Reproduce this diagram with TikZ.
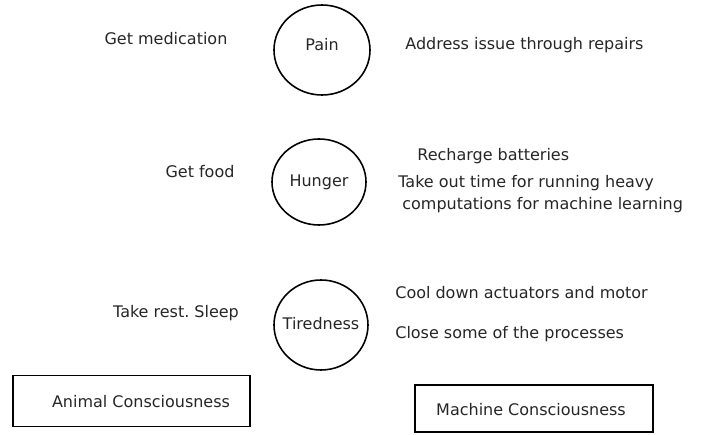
\documentclass[tikz,border=0pt]{standalone}
\usepackage{fontspec}
\setmainfont{DejaVu Sans}
\usetikzlibrary{shapes.geometric}
\frenchspacing
\tikzset{
    feeling/.style={draw,ellipse,line width=.9pt,inner sep=0pt},
    kind/.style={draw,rectangle,line width=.9pt,inner sep=0pt},
    act/.style={inner sep=0pt,anchor=west},
}
\begin{document}
\begin{tikzpicture}[x=0.02cm,y=-0.02cm,font=\fontsize{9.1}{11}\selectfont,text=black!85]
                \useasboundingbox (0,0) rectangle (708,435);
                \node[feeling,minimum width=96*0.02cm,minimum height=90*0.02cm] (pain) at (322,50) {};
                \node[feeling,minimum width=94*0.02cm,minimum height=86*0.02cm] (hunger) at (319,182) {};
                \node[feeling,minimum width=94*0.02cm,minimum height=90*0.02cm] (tired) at (321,325) {};
                \node (painlbl) at (322,45) {Pain};
                \node (hungerlbl) at (319,182) {Hunger};
                \node (tiredlbl) at (321,324) {Tiredness};
                \node (medic) at (166,39) {Get medication};
                \node (food) at (200,172) {Get food};
                \node (rest) at (176,313) {Take rest. Sleep};
                \node[act] (repair) at (405,45) {Address issue through repairs};
                \node[act] (charge) at (417,156) {Recharge batteries};
                \node[act] (heavy) at (398,183) {Take out time for running heavy};
                \node[act] (comp) at (402,205) {computations for machine learning};
                \node[act] (cool) at (395,293) {Cool down actuators and motor};
                \node[act] (close) at (395,334) {Close some of the processes};
                \node[kind,minimum width=237*0.02cm,minimum height=51*0.02cm] (animal) at (131.5,401) {};
                \node (animallbl) at (141,402) {Animal Consciousness};
                \node[kind,minimum width=238*0.02cm,minimum height=47*0.02cm] (machine) at (534,408.5) {};
                \node (machinelbl) at (531,410) {Machine Consciousness};
            \end{tikzpicture}
\end{document}
